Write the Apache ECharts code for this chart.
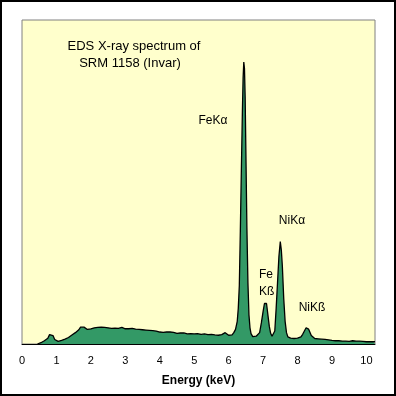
<!DOCTYPE html>
<html>
<head>
<meta charset="utf-8">
<script src="https://cdn.jsdelivr.net/npm/echarts@6/dist/echarts.min.js"></script>
<style>
html,body{margin:0;padding:0;background:#fff;}
#c{width:396px;height:396px;}
</style>
</head>
<body>
<div id="c"></div>
<script>
// Energy (keV) sample points
var energy = [
 0.45,0.50,0.55,0.60,0.65,0.70,0.75,0.80,0.85,0.90,0.95,1.00,1.05,1.10,1.15,1.20,1.25,1.30,1.35,1.40,
 1.45,1.50,1.55,1.60,1.65,1.70,1.75,1.80,1.85,1.90,1.95,2.00,2.05,2.10,2.15,2.20,2.25,2.30,2.35,2.40,
 2.45,2.50,2.55,2.60,2.65,2.70,2.75,2.80,2.85,2.90,2.95,3.00,3.05,3.10,3.15,3.20,3.25,3.30,3.35,3.40,
 3.45,3.50,3.55,3.60,3.65,3.70,3.75,3.80,3.85,3.90,3.95,4.00,4.05,4.10,4.15,4.20,4.25,4.30,4.35,4.40,
 4.45,4.50,4.55,4.60,4.65,4.70,4.75,4.80,4.85,4.90,4.95,5.00,5.05,5.10,5.15,5.20,5.25,5.30,5.35,5.40,
 5.45,5.50,5.55,5.60,5.65,5.70,5.75,5.80,5.85,5.90,5.95,6.00,6.05,6.10,6.15,6.20,
 6.25,6.28,6.31,6.34,6.37,6.40,6.42,6.44,6.46,6.48,6.50,6.53,6.56,6.59,6.62,6.65,6.70,6.75,6.80,6.85,
 6.90,6.95,7.00,7.04,7.07,7.10,7.14,7.18,7.22,7.26,7.30,7.34,7.38,7.42,7.46,7.50,7.53,7.56,7.60,7.64,
 7.68,7.72,7.76,7.80,7.85,7.90,7.95,8.00,8.05,8.10,8.15,8.20,8.25,8.28,8.32,8.36,8.40,8.45,8.50,8.55,
 8.60,8.65,8.70,8.75,8.80,8.85,8.90,8.95,9.00,9.05,9.10,9.15,9.20,9.25,9.30,9.35,9.40,9.45,9.50,9.55,
 9.60,9.65,9.70,9.75,9.80,9.85,9.90,9.95,10.00,10.05,10.10,10.15,10.20,10.25
];
// Counts (relative intensity)
var counts = [
 0,0.3,0.4,0.6,1.0,1.1,1.8,2.9,3.5,2.6,1.4,0.9,0.8,0.9,1.1,1.3,1.5,1.8,2.0,2.4,
 2.8,3.0,3.5,3.8,4.4,5.2,5.6,5.2,4.6,4.5,4.8,4.7,4.9,5.0,4.9,5.1,5.0,5.2,4.9,5.1,
 5.2,5.0,5.1,4.8,5.0,4.9,5.1,4.8,4.9,5.1,4.8,4.7,4.9,4.7,4.6,4.8,4.5,4.6,4.4,4.5,
 4.2,4.4,4.1,4.3,4.0,4.2,3.9,4.1,3.8,4.0,3.9,3.7,3.9,3.6,3.8,3.7,3.5,3.7,3.4,3.6,
 3.5,3.3,3.5,3.4,3.2,3.4,3.3,3.1,3.3,3.2,3.0,3.1,3.0,3.2,2.9,3.0,2.9,3.1,2.8,2.9,
 2.8,3.0,2.7,2.8,2.9,2.7,2.8,2.9,3.2,3.5,3.3,2.7,2.6,2.8,3.5,4.5,
 7,11,18,35,54,72,82,87,85,76,60,36,19,9,5,3.2,2.3,2.2,2.4,2.6,
 3.5,6.5,10,12.5,13,12.5,9,5.5,3.3,2.4,2.5,4,11,19,27,31.6,29,24,14,7,
 3.5,2.2,1.7,1.8,1.6,1.7,1.6,1.8,1.8,2.2,3.0,4.0,5.0,5.3,4.6,3.6,2.6,2.0,1.7,1.5,
 1.6,1.4,1.5,1.3,1.4,1.2,1.3,1.2,1.1,1.2,1.0,1.1,1.0,1.1,0.9,1.0,0.9,1.0,0.8,0.9,
 1.0,0.8,0.9,0.8,0.9,0.7,0.8,0.9,0.7,0.8,0.7,0.8,0.7,0.7
];
var xTicks = [0,1,2,3,4,5,6,7,8,9,10];
var titleLines = ['EDS X-ray spectrum of', 'SRM 1158 (Invar)'];
var peakLabels = ['FeK\u03b1', 'NiK\u03b1', 'Fe', 'K\u00df', 'NiK\u00df'];

var pts = energy.map(function (e, i) { return [e, counts[i]]; });
var font = '"Liberation Sans", Arial, sans-serif';

var chart = echarts.init(document.getElementById('c'), null, {renderer: 'canvas'});
chart.setOption({
  animation: false,
  backgroundColor: '#ffffff',
  grid: {
    left: 22, right: 21, top: 20, bottom: 52,
    show: true, backgroundColor: '#FFFFCC', borderColor: '#808080', borderWidth: 1
  },
  xAxis: {
    type: 'value', min: 0, max: 10.25, interval: 1,
    name: 'Energy (keV)', nameLocation: 'middle', nameGap: 31,
    nameTextStyle: {fontFamily: font, fontSize: 12, fontWeight: 'bold', color: '#000'},
    axisLine: {show: true, lineStyle: {color: '#000', width: 1}},
    axisTick: {show: false},
    splitLine: {show: false},
    axisLabel: {
      margin: 11, fontFamily: font, fontSize: 11, color: '#000', showMaxLabel: false,
      formatter: function (v) { return xTicks.indexOf(v) >= 0 ? String(v) : ''; }
    }
  },
  yAxis: {
    type: 'value', min: 0, max: 100, show: false
  },
  series: [{
    type: 'line',
    data: pts,
    symbol: 'none',
    smooth: false,
    lineStyle: {color: '#000', width: 1.3},
    areaStyle: {color: '#339966', opacity: 1}
  }],
  graphic: [
    {type: 'rect', shape: {x: 1, y: 1, width: 394, height: 394}, style: {fill: null, stroke: '#000', lineWidth: 2}, silent: true},
    {type: 'text', x: 134, y: 46, style: {text: titleLines[0], font: '13px ' + font, fill: '#000', textAlign: 'center', textVerticalAlign: 'middle'}},
    {type: 'text', x: 130, y: 63, style: {text: titleLines[1], font: '13px ' + font, fill: '#000', textAlign: 'center', textVerticalAlign: 'middle'}},
    {type: 'text', x: 213, y: 121, style: {text: peakLabels[0], font: '12px ' + font, fill: '#000', textAlign: 'center', textVerticalAlign: 'middle'}},
    {type: 'text', x: 292, y: 221, style: {text: peakLabels[1], font: '12px ' + font, fill: '#000', textAlign: 'center', textVerticalAlign: 'middle'}},
    {type: 'text', x: 259, y: 275, style: {text: peakLabels[2], font: '12px ' + font, fill: '#000', textAlign: 'left', textVerticalAlign: 'middle'}},
    {type: 'text', x: 259, y: 292, style: {text: peakLabels[3], font: '12px ' + font, fill: '#000', textAlign: 'left', textVerticalAlign: 'middle'}},
    {type: 'text', x: 312, y: 308, style: {text: peakLabels[4], font: '12px ' + font, fill: '#000', textAlign: 'center', textVerticalAlign: 'middle'}}
  ]
});
</script>
</body>
</html>
